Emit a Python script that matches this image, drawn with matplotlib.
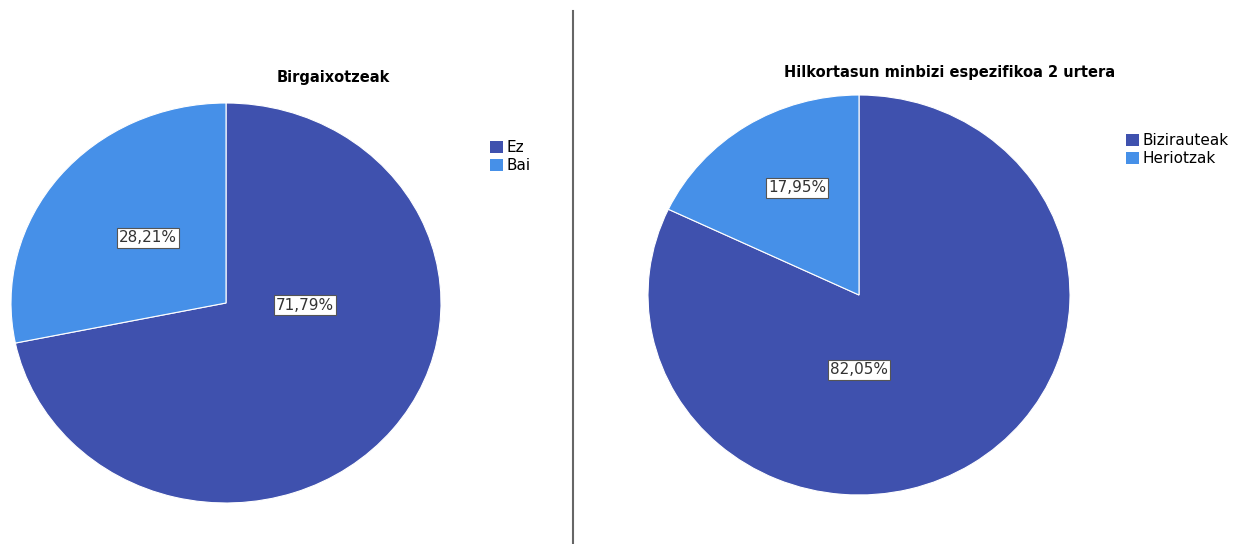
import matplotlib.pyplot as plt
from matplotlib.patches import Patch

# two pie charts side by side, percentages of cases
left_title = "Birgaixotzeak"
left_labels = ["Ez", "Bai"]
left_values = [71.79, 28.21]

right_title = "Hilkortasun minbizi espezifikoa 2 urtera"
right_labels = ["Bizirauteak", "Heriotzak"]
right_values = [82.05, 17.95]

colors = ["#3f51ae", "#4690e8"]

fig = plt.figure(figsize=(12.43, 5.44), dpi=100)
W, H = 1243.0, 544.0


def px_axes(x0, y0, x1, y1):
    # axes placed by pixel box (top-left origin)
    return fig.add_axes([x0 / W, 1 - y1 / H, (x1 - x0) / W, (y1 - y0) / H])


def draw_pie(ax, values, label_pos):
    wedges, _ = ax.pie(values, colors=colors, startangle=90, counterclock=False,
                       radius=1.0, wedgeprops=dict(edgecolor="white", linewidth=0.8))
    ax.set_aspect("auto")
    ax.set_xlim(-1, 1)
    ax.set_ylim(-1, 1)
    for v, (lx, ly) in zip(values, label_pos):
        ax.text(lx, ly, f"{v:.2f}%".replace(".", ","), ha="center", va="center",
                fontsize=11, color="#333333",
                bbox=dict(boxstyle="square,pad=0.15", fc="white", ec="#555555", lw=0.8))
    return wedges


axl = px_axes(11, 103, 441, 503)
draw_pie(axl, left_values, [(0.367, -0.01), (-0.363, 0.325)])

axr = px_axes(648, 95, 1070, 495)
draw_pie(axr, right_values, [(0.0, -0.375), (-0.294, 0.535)])

fig.text(333 / W, 1 - 78 / H, left_title, ha="center", va="center",
         fontsize=10.5, fontweight="bold")
fig.text(950 / W, 1 - 72 / H, right_title, ha="center", va="center",
         fontsize=10.5, fontweight="bold")

# legends
for labels, (x, y) in [(left_labels, (490, 140)), (right_labels, (1126, 133))]:
    handles = [Patch(facecolor=c, edgecolor="none") for c in colors]
    fig.legend(handles, labels, loc="upper left", bbox_to_anchor=(x / W, 1 - y / H),
               frameon=False, fontsize=11, handlelength=0.85, handleheight=0.85,
               handletextpad=0.25, labelspacing=0.2, borderpad=0, borderaxespad=0)

# divider between the two charts
fig.add_artist(plt.Line2D([573 / W, 573 / W], [0, 1 - 11 / H], color="#666666", lw=1.5))

fig.savefig("out.png", dpi=100, facecolor="white")
